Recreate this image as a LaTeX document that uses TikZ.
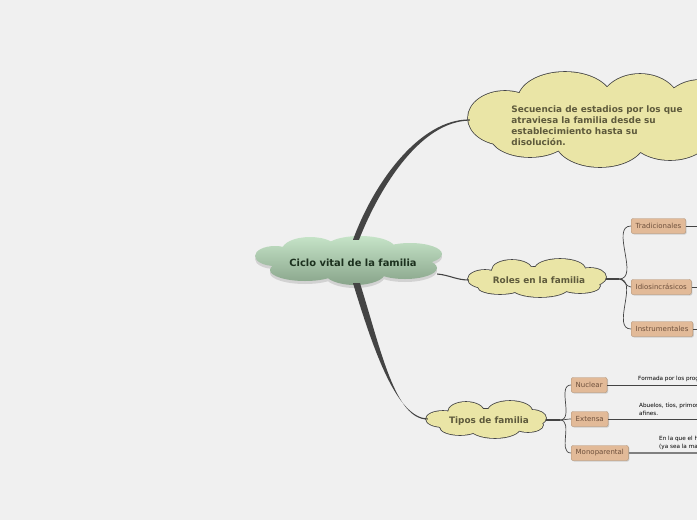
\documentclass[tikz,border=0pt]{standalone}
\usepackage{fontspec}
\setmainfont{DejaVu Sans}
\usetikzlibrary{calc,shadows}
\pgfdeclarelayer{bg}
\pgfsetlayers{bg,main}
\definecolor{PageGray}{RGB}{240,240,240}
\definecolor{CloudYellow}{RGB}{234,229,166}
\definecolor{CloudText}{RGB}{94,90,60}
\definecolor{EdgeGray}{RGB}{68,68,68}
\definecolor{TopGreen}{RGB}{198,228,200}
\definecolor{BotGreen}{RGB}{136,164,138}
\definecolor{CoreText}{RGB}{28,48,30}
\definecolor{BoxTan}{RGB}{226,186,152}
\definecolor{BoxLine}{RGB}{176,146,116}
\definecolor{BoxText}{RGB}{110,80,60}
% cloud outlines, as unions of ellipses
\newcommand\coreblob{(275,256) ellipse [x radius=20,y radius=10] (310,250) ellipse [x radius=28,y radius=13]
	(360,248) ellipse [x radius=35,y radius=12] (410,254) ellipse [x radius=32,y radius=11]
	(305,270) ellipse [x radius=35,y radius=11] (355,273) ellipse [x radius=30,y radius=12]
	(405,268) ellipse [x radius=32,y radius=11] (350,262) ellipse [x radius=80,y radius=14]}
\newcommand\seqblob{(505,118) ellipse [x radius=37,y radius=27] (565,100) ellipse [x radius=47,y radius=28]
	(640,105) ellipse [x radius=40,y radius=31] (700,115) ellipse [x radius=40,y radius=35]
	(530,135) ellipse [x radius=40,y radius=22] (600,140) ellipse [x radius=45,y radius=27]
	(670,135) ellipse [x radius=40,y radius=25] (595,120) ellipse [x radius=95,y radius=30]}
\newcommand\rolesblob{(485,279) ellipse [x radius=17,y radius=9] (512,270) ellipse [x radius=20,y radius=10]
	(560,269) ellipse [x radius=25,y radius=10] (590,277) ellipse [x radius=16,y radius=9]
	(500,287) ellipse [x radius=22,y radius=7] (540,288) ellipse [x radius=28,y radius=9]
	(580,286) ellipse [x radius=20,y radius=7] (537,278) ellipse [x radius=55,y radius=11]}
\newcommand\typesblob{(443,419) ellipse [x radius=17,y radius=8] (466,412) ellipse [x radius=18,y radius=10]
	(510,411) ellipse [x radius=22,y radius=10] (532,418) ellipse [x radius=14,y radius=8]
	(460,427) ellipse [x radius=20,y radius=8] (495,428) ellipse [x radius=25,y radius=10]
	(528,425) ellipse [x radius=15,y radius=7] (486,420) ellipse [x radius=48,y radius=11]}
\tikzset{
	core/.style={inner sep=0pt,text=CoreText,font=\bfseries\fontsize{9.9}{11}\selectfont},
	topic/.style={inner sep=0pt,text=CloudText,font=\bfseries\fontsize{8.9}{11}\selectfont},
	rim/.style={draw=EdgeGray,line width=1.6pt},
	sub/.style={rectangle,rounded corners=2pt,draw=BoxLine,fill=BoxTan,text=BoxText,
		font=\fontsize{7}{8}\selectfont,minimum height=15pt,inner xsep=4.5pt,anchor=west,
		drop shadow={shadow xshift=1pt,shadow yshift=-1pt,opacity=0.3}},
	note/.style={font=\fontsize{5.7}{8}\selectfont,align=left,anchor=south west,inner sep=0pt},
	twig/.style={draw=EdgeGray,line width=0.7pt},
	leaf/.style={draw=EdgeGray,line width=0.9pt},
}
\begin{document}
\begin{tikzpicture}[x=1pt,y=-1pt]
	\clip (0,0) rectangle (697,520);
	% main ideas
	\node[core,minimum width=188pt,minimum height=48pt] (ctr) at (353,263) {Ciclo vital de la familia};
	\node[topic,minimum width=258pt,minimum height=95pt,align=left] (seq) at (597,126)
		{Secuencia de estadios por los que\\atraviesa la familia desde su\\establecimiento hasta su\\disolución.};
	\node[topic,minimum width=138pt,minimum height=38pt] (roles) at (539,280) {Roles en la familia};
	\node[topic,minimum width=120pt,minimum height=37pt] (types) at (489,421) {Tipos de familia};
	\begin{pgfonlayer}{bg}
		\fill[PageGray] (0,0) rectangle (697,520);
		\fill[black,opacity=0.12,shift={(0,3)}] \coreblob;
		\shade[top color=TopGreen,bottom color=BotGreen] \coreblob;
		\draw[rim] \seqblob;
		\fill[CloudYellow] \seqblob;
		\draw[rim] \rolesblob;
		\fill[CloudYellow] \rolesblob;
		\draw[rim] \typesblob;
		\fill[CloudYellow] \typesblob;
		% trunks
		\fill[EdgeGray] ($(ctr.north)+(0,1)$) .. controls (374,182) and (420,119) .. ($(seq.west)+(2,-6.6)$)
			-- ($(seq.west)+(2,-5.4)$) .. controls (422,121) and (381,184) .. ($(ctr.north)+(6,1)$) -- cycle;
		\fill[EdgeGray] ($(ctr.south)+(0,-4)$) .. controls (374,352) and (397,418) .. ($(types.west)+(-1,-2.5)$)
			-- ($(types.west)+(-1,-1.5)$) .. controls (395,420) and (381,350) .. ($(ctr.south)+(7,-4)$) -- cycle;
		\draw[twig,line width=1.1pt] ($(ctr.east)+(-10,11)$) to[out=-5,in=180] ($(roles.west)+(-1,0)$);
	\end{pgfonlayer}
	% roles
	\node[sub] (trad) at (631,226) {Tradicionales};
	\node[sub] (idio) at (631,287) {Idiosincrásicos};
	\node[sub] (inst) at (631,329) {Instrumentales};
	\coordinate (rj) at (619,279);
	\draw[twig,line width=1.3pt] ($(roles.east)+(-2,-1)$) -- (rj);
	\draw[twig] (rj) to[out=0,in=180] (trad.west);
	\draw[twig] (rj) to[out=0,in=180] (idio.west);
	\draw[twig] (rj) to[out=0,in=180] (inst.west);
	\coordinate (tradR) at (700,226);
	\coordinate (idioR) at (700,287);
	\coordinate (instR) at (700,329);
	\draw[leaf] (trad.east) -- (tradR);
	\draw[leaf] (idio.east) -- (idioR);
	\draw[leaf] (inst.east) -- (instR);
	% tipos
	\node[sub] (nuc) at (571,385) {Nuclear};
	\node[sub] (ext) at (571,419) {Extensa};
	\node[sub] (mono) at (571,453) {Monoparental};
	\coordinate (tj) at (560,420);
	\draw[twig,line width=1.3pt] ($(types.east)+(-3,-1)$) -- (tj);
	\draw[twig] (tj) to[out=0,in=180] (nuc.west);
	\draw[twig] (tj) to[out=0,in=180] (ext.west);
	\draw[twig] (tj) to[out=0,in=180] (mono.west);
	\coordinate (nucR) at (700,385);
	\coordinate (extR) at (700,419);
	\coordinate (monoR) at (700,453);
	\draw[leaf] (nuc.east) -- (nucR);
	\draw[leaf] (ext.east) -- (extR);
	\draw[leaf,draw=gray,line width=1.4pt] (mono.east) -- (monoR);
	\node[note] (nucT) at (638,382) {Formada por los progenitores y sus hijos.};
	\node[note] (extT) at (639,416) {Abuelos, tíos, primos y otros parientes\\afines.};
	\node[note] (monoT) at (659,450) {En la que el hijo vive con uno de sus padres\\(ya sea la madre o el padre).};
\end{tikzpicture}
\end{document}
